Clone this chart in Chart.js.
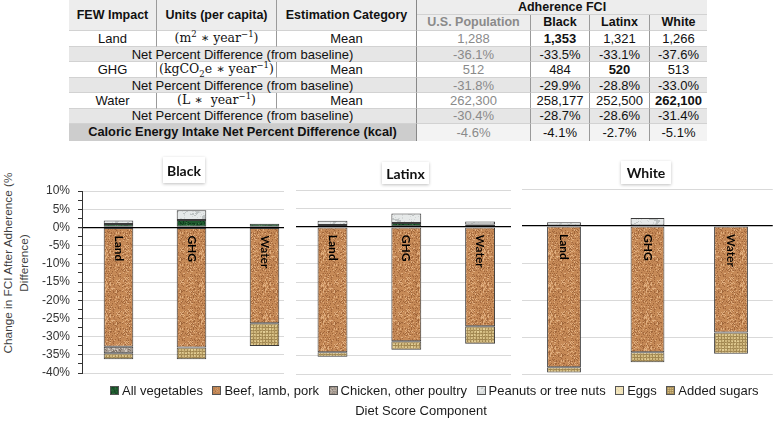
<!DOCTYPE html>
<html><head><meta charset="utf-8">
<script src="https://cdn.jsdelivr.net/npm/chart.js@4.4.1/dist/chart.umd.min.js"></script>
<style>
body{margin:0;background:#fff;}
#root{position:relative;width:774px;height:422px;overflow:hidden;font-family:'Liberation Sans',Arial,sans-serif;background:#fff;}
.cell{position:absolute;box-sizing:border-box;display:flex;align-items:center;justify-content:center;white-space:nowrap;font-size:13px;color:#111;line-height:1;border-right:1px solid #9a9a9a;border-bottom:1px solid #d2d2d2;}
.serif{font-family:'DejaVu Serif','Liberation Serif',serif;font-size:12.5px;}
.serif sup,.serif sub{font-size:8.5px;line-height:0;}
canvas{position:absolute;z-index:1;}
.ptitle{position:absolute;z-index:5;box-sizing:border-box;background:#fff;box-shadow:0 1px 3px rgba(0,0,0,0.25);font-family:Lato,'Open Sans',sans-serif;font-weight:bold;font-size:14px;color:#111;display:flex;align-items:center;justify-content:center;}
#legend{position:absolute;z-index:5;left:110px;top:383px;display:flex;gap:9.5px;font-size:13px;color:#1a1a1a;white-space:nowrap;}
#legend .it{display:flex;align-items:center;}
#legend .sw{width:7px;height:7px;border:1px solid #555;margin-right:3px;background-size:12px 12px;}
#xtitle{position:absolute;z-index:5;left:321px;width:200px;top:403px;text-align:center;font-size:13px;color:#1a1a1a;}
#ytitle{position:absolute;z-index:5;left:-84px;top:247px;width:200px;height:32px;text-align:center;line-height:16px;font-size:11.8px;color:#404040;transform:rotate(-90deg);white-space:nowrap;}
</style></head><body><div id="root"></div>
<script>
// ---------- data ----------
const categories = ['Land', 'GHG', 'Water'];
const groups = ['Black', 'Latinx', 'White'];
const seriesNames = ['All vegetables', 'Beef, lamb, pork', 'Chicken, other poultry', 'Peanuts or tree nuts', 'Eggs', 'Added sugars'];

const blackVegetables = [0.9, 2.0, 1.0];
const blackBeef = [-32.8, -33.0, -26.3];
const blackChicken = [-1.8, null, null];
const blackPeanuts = [1.0, 2.7, null];
const blackEggs = [null, null, null];
const blackSugars = [-1.6, -3.2, -6.3];

const latinxVegetables = [0.5, 1.0, 0.6];
const latinxBeef = [-34.1, -31.1, -27.0];
const latinxChicken = [null, null, null];
const latinxPeanuts = [1.15, 2.6, 0.85];
const latinxEggs = [null, null, null];
const latinxSugars = [-1.2, -2.3, -4.8];

const whiteVegetables = [null, null, null];
const whiteBeef = [-38.2, -34.1, -28.8];
const whiteChicken = [null, null, null];
const whitePeanuts = [1.0, 2.15, null];
const whiteEggs = [null, null, null];
const whiteSugars = [-1.4, -2.7, -5.7];

const yMin = -40, yMax = 10;

// table data
const tableImpacts = ['Land', 'GHG', 'Water'];
const tableUnits = ['(m<sup>2</sup> ∗ year<sup>−1</sup>)', '(kgCO<sub>2</sub>e ∗ year<sup>−1</sup>)', '(L ∗&nbsp; year<sup>−1</sup>)'];
const tableEstimation = 'Mean';
const netLabel = 'Net Percent Difference (from baseline)';
const caloricLabel = 'Caloric Energy Intake Net Percent Difference (kcal)';
const tableGroups = ['U.S. Population', 'Black', 'Latinx', 'White'];
const usMeans = ['1,288', '512', '262,300'];
const blackMeans = ['1,353', '484', '258,177'];
const latinxMeans = ['1,321', '520', '252,500'];
const whiteMeans = ['1,266', '513', '262,100'];
const usPct = ['-36.1%', '-31.8%', '-30.4%'];
const blackPct = ['-33.5%', '-29.9%', '-28.7%'];
const latinxPct = ['-33.1%', '-28.8%', '-28.6%'];
const whitePct = ['-37.6%', '-33.0%', '-31.4%'];
const caloricPct = ['-4.6%', '-4.1%', '-2.7%', '-5.1%'];

// ---------- table ----------
const root = document.getElementById('root');
const colX = [69, 157, 277, 417, 531, 590, 650, 707];
const rowY = [0, 15, 31, 47, 62, 78, 93, 108.5, 124, 141];
function cell(c0, c1, r0, r1, html, style) {
  const d = document.createElement('div');
  d.className = 'cell';
  d.style.left = colX[c0] + 'px'; d.style.width = (colX[c1] - colX[c0]) + 'px';
  d.style.top = rowY[r0] + 'px'; d.style.height = (rowY[r1] - rowY[r0]) + 'px';
  d.innerHTML = '<span>' + html + '</span>';
  if (style) Object.assign(d.style, style);
  root.appendChild(d);
  return d;
}
const hdr = {background: '#ededed', fontWeight: 'bold', fontSize: '12.5px'};
cell(0, 1, 0, 2, 'FEW Impact', hdr);
cell(1, 2, 0, 2, 'Units (per capita)', hdr);
cell(2, 3, 0, 2, 'Estimation Category', Object.assign({}, hdr, {borderRight: '1px solid #888'}));
cell(3, 7, 0, 1, 'Adherence FCI', Object.assign({}, hdr, {borderRight: 'none'}));
tableGroups.forEach((g, i) => cell(3 + i, 4 + i, 1, 2, g, Object.assign({}, hdr, {color: i === 0 ? '#8a8a8a' : '#111', borderRight: i === 3 ? 'none' : '1px solid #9a9a9a'})));
const meanCols = [usMeans, blackMeans, latinxMeans, whiteMeans];
const pctCols = [usPct, blackPct, latinxPct, whitePct];
tableImpacts.forEach((imp, r) => {
  const rr = 2 + r * 2;
  cell(0, 1, rr, rr + 1, imp);
  cell(1, 2, rr, rr + 1, tableUnits[r]).classList.add('serif');
  cell(2, 3, rr, rr + 1, tableEstimation, {borderRight: '1px solid #888'});
  const vals = [blackMeans[r], latinxMeans[r], whiteMeans[r]].map(s => +s.replace(/,/g, ''));
  const mx = Math.max(...vals);
  meanCols.forEach((col, i) => {
    const st = {borderRight: i === 3 ? 'none' : '1px solid #9a9a9a'};
    if (i === 0) st.color = '#8a8a8a';
    else if (+col[r].replace(/,/g, '') === mx) st.fontWeight = 'bold';
    cell(3 + i, 4 + i, rr, rr + 1, col[r], st);
  });
  cell(0, 3, rr + 1, rr + 2, netLabel, {background: '#e6e6e6', borderRight: '1px solid #888'});
  pctCols.forEach((col, i) => cell(3 + i, 4 + i, rr + 1, rr + 2, col[r], {background: '#e6e6e6', color: i === 0 ? '#8a8a8a' : '#111', borderRight: i === 3 ? 'none' : '1px solid #9a9a9a'}));
});
cell(0, 3, 8, 9, caloricLabel, {background: '#cdcdcd', fontWeight: 'bold', fontSize: '12.8px', borderRight: '1px solid #888', borderBottom: 'none'});
caloricPct.forEach((v, i) => cell(3 + i, 4 + i, 8, 9, v, {background: '#f3f3f3', color: i === 0 ? '#8a8a8a' : '#111', borderRight: i === 3 ? 'none' : '1px solid #9a9a9a', borderBottom: 'none'}));

// ---------- textures ----------
function hash(x, y, s) { const v = Math.sin(x * 127.1 + y * 311.7 + s * 74.7) * 43758.5453; return v - Math.floor(v); }
function tile(size, painter) {
  const c = document.createElement('canvas'); c.width = c.height = size;
  const g = c.getContext('2d'); const img = g.createImageData(size, size);
  for (let y = 0; y < size; y++) for (let x = 0; x < size; x++) {
    const p = painter(x, y); const k = (y * size + x) * 4;
    img.data[k] = p[0]; img.data[k + 1] = p[1]; img.data[k + 2] = p[2]; img.data[k + 3] = 255;
  }
  g.putImageData(img, 0, 0); return c;
}
function speckle(base, dark, light, s, pd, pl) {
  return (x, y) => { const n = hash(x, y, s); return n < pd ? dark : (n > 1 - pl ? light : base); };
}
const tiles = [
  tile(24, speckle([30, 90, 46], [16, 60, 30], [60, 120, 70], 1, 0.2, 0.12)),
  tile(32, (x, y) => { const n = hash(x, y, 2); return n < 0.16 ? [160, 102, 58] : n < 0.3 ? [182, 122, 76] : n > 0.86 ? [224, 174, 126] : [198, 138, 87]; }),
  tile(24, speckle([168, 156, 146], [128, 116, 106], [205, 198, 190], 3, 0.2, 0.2)),
  tile(32, (x, y) => { const m = Math.sin((x + y * 0.7) * 0.45 + 3 * Math.sin(y * 0.35 + x * 0.1)); const n = hash(x, y, 4); return m > 0.8 ? [190, 195, 195] : n > 0.88 ? [210, 214, 214] : [230, 233, 233]; }),
  tile(16, speckle([242, 228, 186], [228, 212, 168], [248, 238, 205], 5, 0.1, 0.1)),
  tile(18, (x, y) => { const n = hash(x, y, 6); if (x % 3 === 0 || y % 3 === 0) return n < 0.5 ? [160, 134, 80] : [176, 150, 94]; return n > 0.7 ? [226, 206, 150] : [208, 184, 126]; })
];

// ---------- legend & titles ----------
const leg = document.createElement('div'); leg.id = 'legend';
seriesNames.forEach((n, i) => {
  const it = document.createElement('div'); it.className = 'it';
  const sw = document.createElement('span'); sw.className = 'sw'; sw.style.backgroundImage = 'url(' + tiles[i].toDataURL() + ')';
  const tx = document.createElement('span'); tx.textContent = n;
  it.appendChild(sw); it.appendChild(tx); leg.appendChild(it);
});
root.appendChild(leg);
const xt = document.createElement('div'); xt.id = 'xtitle'; xt.textContent = 'Diet Score Component'; root.appendChild(xt);
const yt = document.createElement('div'); yt.id = 'ytitle'; yt.innerHTML = 'Change in FCI After Adherence (%<br>Difference)'; root.appendChild(yt);

// ---------- charts ----------
const panelData = {
  Black: [blackVegetables, blackBeef, blackChicken, blackPeanuts, blackEggs, blackSugars],
  Latinx: [latinxVegetables, latinxBeef, latinxChicken, latinxPeanuts, latinxEggs, latinxSugars],
  White: [whiteVegetables, whiteBeef, whiteChicken, whitePeanuts, whiteEggs, whiteSugars]
};
const panels = [
  {name: 'Black', left: 34, width: 267, padL: 0, padR: 0, top: 41, bottom: 17, step: 2.5, axis: true, title: [163, 157, 42, 26]},
  {name: 'Latinx', left: 284, width: 233, padL: 11.6, padR: 0, top: 40, bottom: 16, step: 5, axis: false, title: [382, 162, 47, 22]},
  {name: 'White', left: 511, width: 263, padL: 11.25, padR: 1.25, top: 39, bottom: 16, step: 10, axis: false, title: [621, 161, 50, 23]}
];
const barLabels = {
  id: 'barLabels',
  afterDatasetsDraw(chart) {
    const ctx = chart.ctx; const meta = chart.getDatasetMeta(1);
    const y0 = chart.scales.y.getPixelForValue(0);
    meta.data.forEach((bar, i) => {
      ctx.save(); ctx.translate(bar.x, y0 + 8); ctx.rotate(Math.PI / 2);
      ctx.fillStyle = '#000'; ctx.font = (i < 2 ? 'bold ' : '600 ') + '12px Lato, "Liberation Sans", sans-serif';
      ctx.textAlign = 'left'; ctx.textBaseline = 'middle';
      ctx.fillText(chart.data.labels[i], 0, 0); ctx.restore();
    });
  }
};
const whiteBg = {id: 'whiteBg', beforeDraw(chart) { const c = chart.ctx; c.save(); c.fillStyle = '#fff'; c.fillRect(0, 0, chart.width, chart.height); c.restore(); }};

panels.forEach(p => {
  const cv = document.createElement('canvas');
  cv.width = p.width; cv.height = 240;
  cv.style.left = p.left + 'px'; cv.style.top = '150px'; cv.style.width = p.width + 'px'; cv.style.height = '240px';
  root.appendChild(cv);
  const ctx = cv.getContext('2d');
  const pats = tiles.map(t => ctx.createPattern(t, 'repeat'));
  const datasets = panelData[p.name].map((vals, i) => ({
    label: seriesNames[i], data: vals, backgroundColor: pats[i],
    borderColor: '#3a3a3a', borderWidth: 1, borderSkipped: false,
    barPercentage: 0.405, categoryPercentage: 1
  }));
  new Chart(cv, {
    type: 'bar',
    data: {labels: categories, datasets},
    options: {
      responsive: false, animation: false, devicePixelRatio: 1,
      layout: {padding: {left: p.padL, right: p.padR, top: p.top, bottom: p.bottom}},
      plugins: {legend: {display: false}, tooltip: {enabled: false}},
      scales: {
        x: {display: false, stacked: true},
        y: {
          stacked: true, min: yMin, max: yMax,
          afterFit(s) { s.width = p.axis ? 48 : 0; },
          ticks: {display: p.axis, stepSize: p.step, autoSkip: false, padding: 8, color: '#333',
            font: {family: '"Liberation Sans", Arial, sans-serif', size: 12},
            callback: v => (v % 5 === 0 ? v + '%' : '')},
          grid: {
            color: c => (c.tick && c.tick.value === 0 ? '#000' : (c.tick && c.tick.value % 5 === 0 ? '#d9d9d9' : 'rgba(0,0,0,0)')),
            lineWidth: c => (c.tick && c.tick.value === 0 ? 1.2 : 1),
            drawTicks: p.axis, tickLength: 4, tickColor: '#333'
          },
          border: {display: p.axis, color: '#333'}
        }
      }
    },
    plugins: [whiteBg, barLabels]
  });
  const t = document.createElement('div'); t.className = 'ptitle'; t.textContent = p.name;
  t.style.left = p.title[0] + 'px'; t.style.top = p.title[1] + 'px'; t.style.width = p.title[2] + 'px'; t.style.height = p.title[3] + 'px';
  root.appendChild(t);
});
</script></body></html>
